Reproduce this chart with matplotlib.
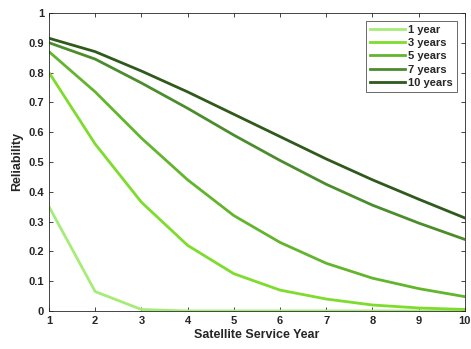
import matplotlib
matplotlib.use("Agg")
import matplotlib.pyplot as plt

years = [1, 2, 3, 4, 5, 6, 7, 8, 9, 10]
labels = ["1 year", "3 years", "5 years", "7 years", "10 years"]
r1 = [0.35, 0.065, 0.005, 0.0, 0.0, 0.0, 0.0, 0.0, 0.0, 0.0]
r3 = [0.80, 0.56, 0.365, 0.22, 0.125, 0.07, 0.04, 0.02, 0.01, 0.005]
r5 = [0.87, 0.735, 0.58, 0.44, 0.32, 0.23, 0.16, 0.11, 0.075, 0.048]
r7 = [0.90, 0.845, 0.765, 0.68, 0.59, 0.505, 0.425, 0.355, 0.295, 0.24]
r10 = [0.915, 0.87, 0.805, 0.735, 0.66, 0.585, 0.51, 0.44, 0.375, 0.312]
colors = ["#a6ec78", "#7ddc2c", "#62b52c", "#4b8c2c", "#2f5a1c"]

plt.rcParams['font.family'] = ['Liberation Sans', 'DejaVu Sans']
fig = plt.figure(figsize=(4.71, 3.49), dpi=100)
ax = fig.add_axes([0.104, 0.109, 0.883, 0.854])
for s, c, l in zip([r1, r3, r5, r7, r10], colors, labels):
    ax.plot(years, s, color=c, lw=2.0, label=l)
ax.set_xlim(1, 10)
ax.set_ylim(0, 1)
ax.set_xticks(years)
ax.set_yticks([0, 0.1, 0.2, 0.3, 0.4, 0.5, 0.6, 0.7, 0.8, 0.9, 1])
ax.set_yticklabels(["0", "0.1", "0.2", "0.3", "0.4", "0.5", "0.6", "0.7", "0.8", "0.9", "1"])
ax.tick_params(direction='in', top=True, right=True, labelsize=8, colors='#262626', length=3, width=0.6)
for t in ax.get_xticklabels() + ax.get_yticklabels():
    t.set_fontweight('bold')
for sp in ax.spines.values():
    sp.set_color('#262626')
    sp.set_linewidth(0.6)
ax.set_xlabel("Satellite Service Year", fontsize=9, fontweight='bold', color='#262626', labelpad=2)
ax.set_ylabel("Reliability", fontsize=9, fontweight='bold', color='#262626', labelpad=4)
leg = ax.legend(loc='upper right', prop={'weight': 'bold', 'size': 8}, fancybox=False,
                edgecolor='#262626', handlelength=3.2, borderaxespad=0.7, labelspacing=0.3,
                handletextpad=0.3, borderpad=0.35)
leg.get_frame().set_linewidth(0.6)
for t in leg.get_texts():
    t.set_color('#262626')
fig.savefig("out.png", dpi=100)
